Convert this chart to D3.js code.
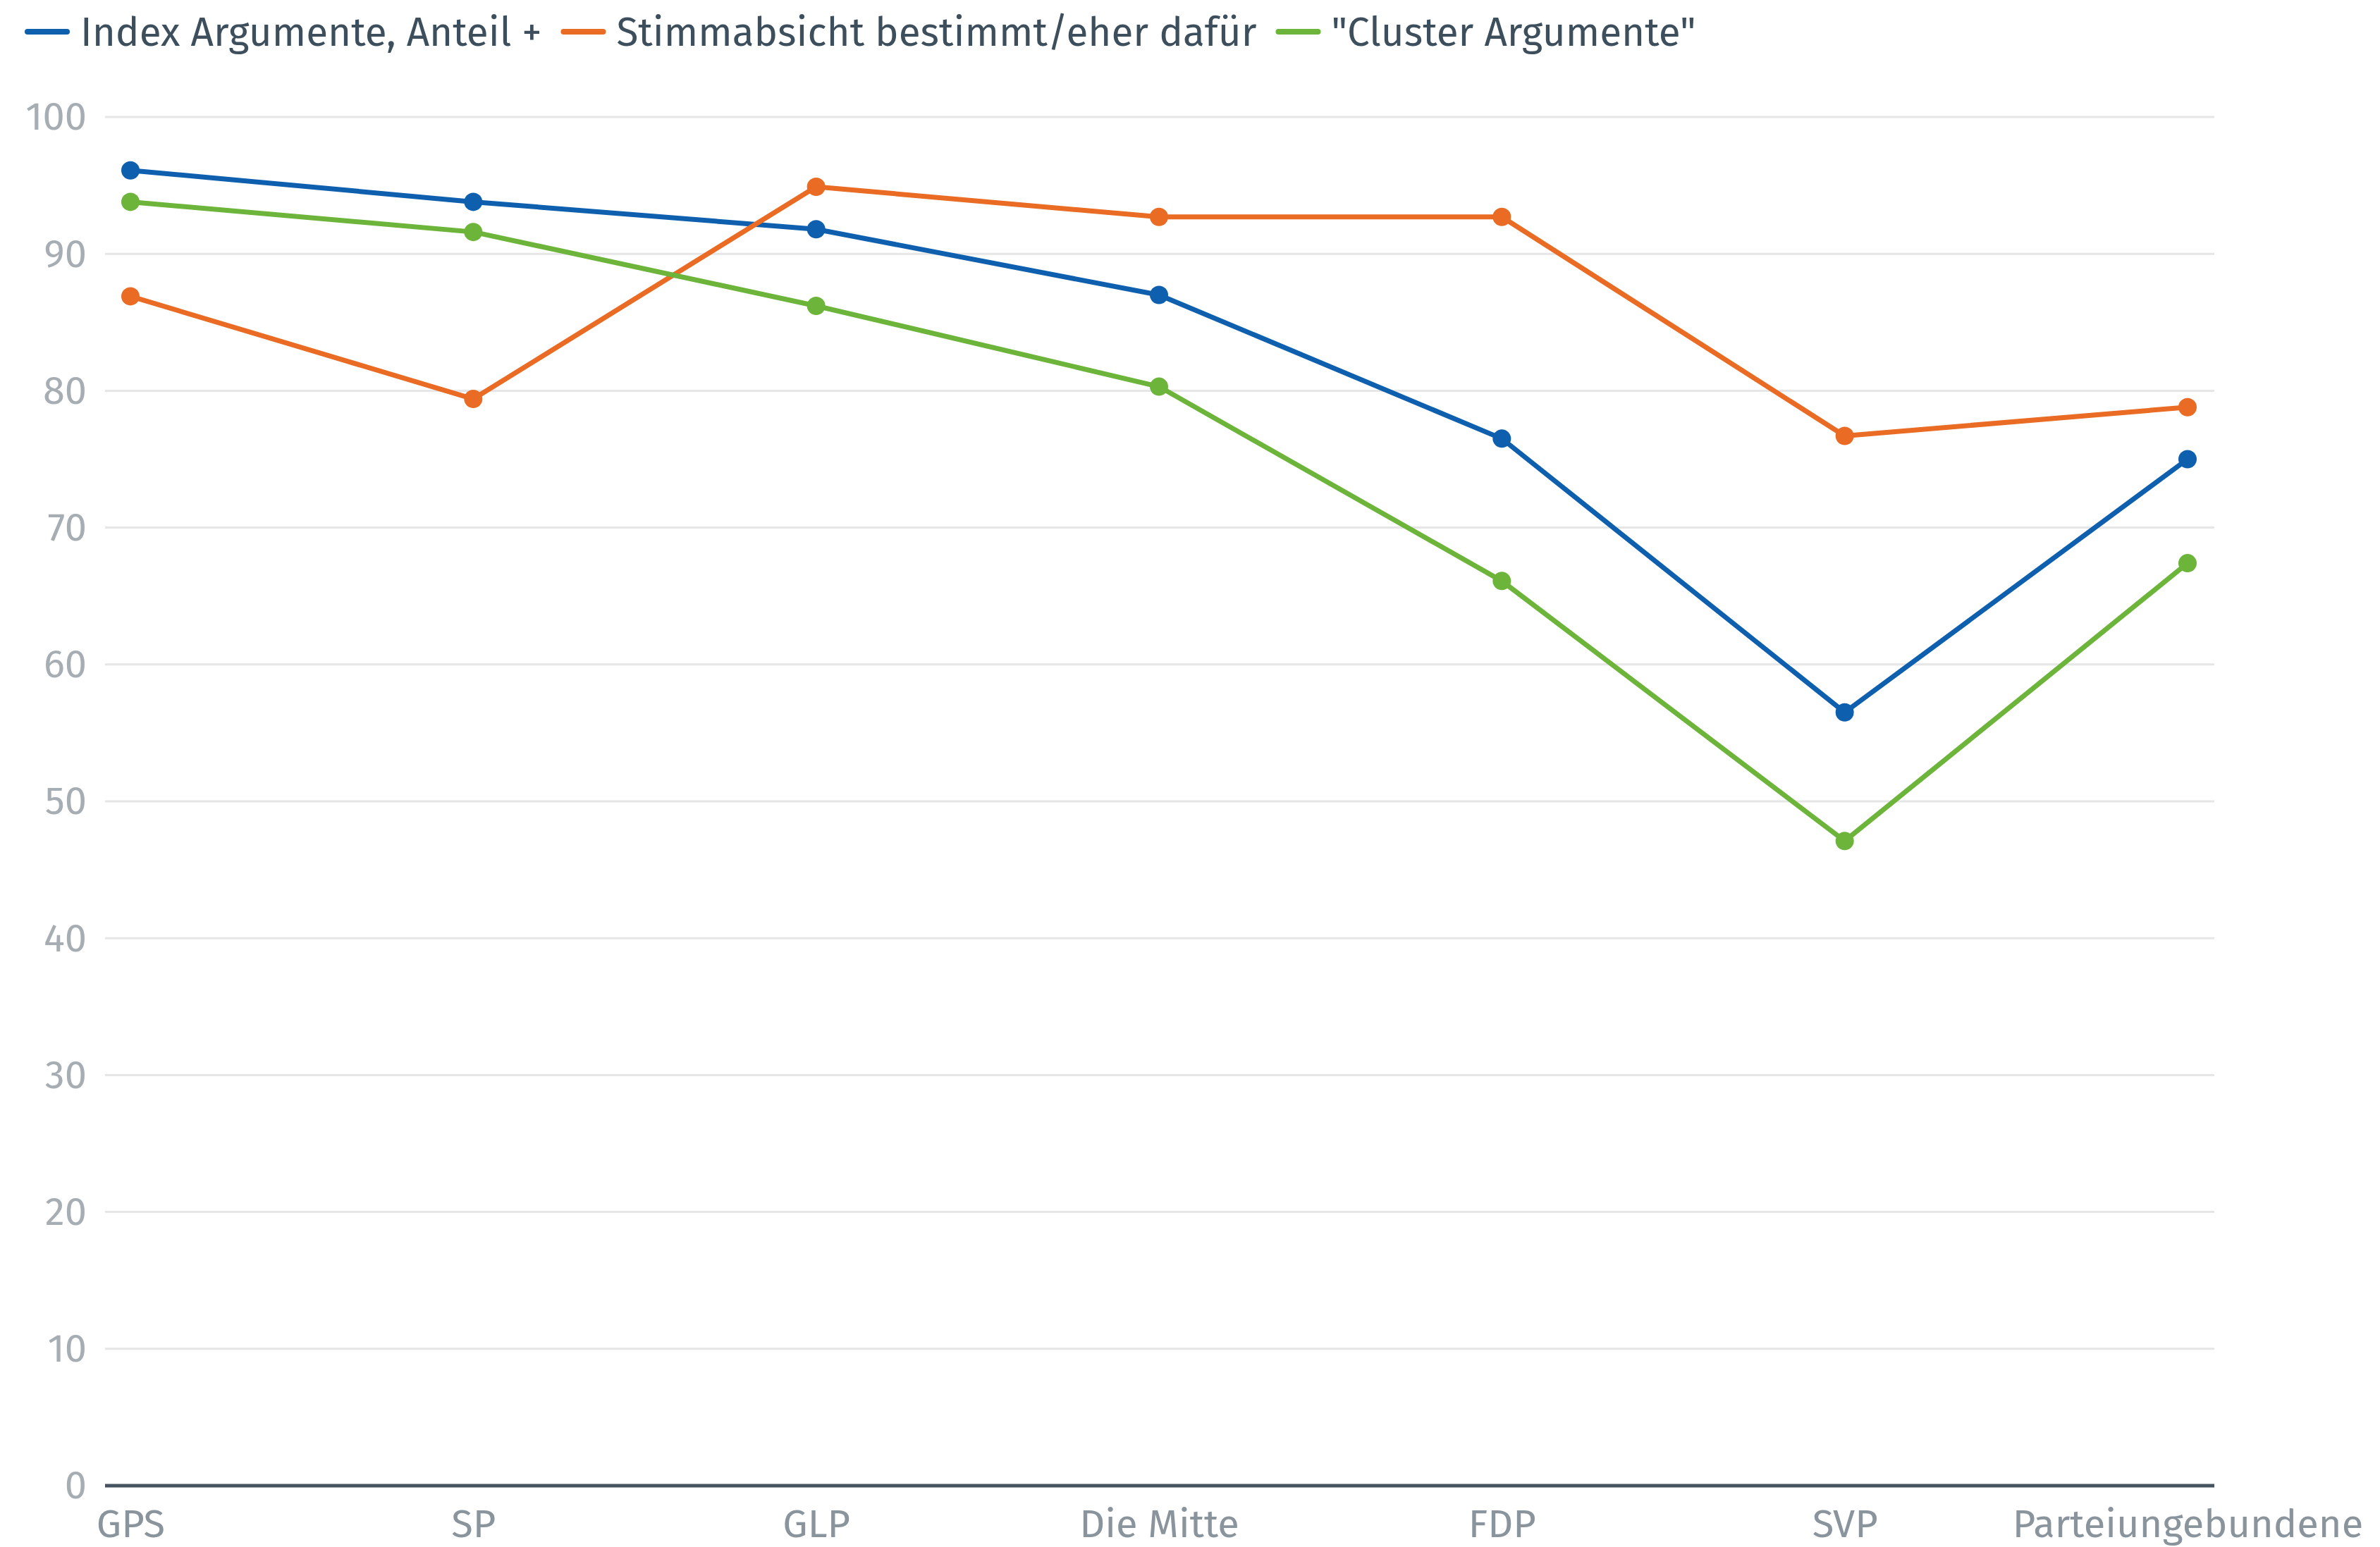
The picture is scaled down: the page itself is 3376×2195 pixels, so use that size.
<!DOCTYPE html>
<html>
<head>
<meta charset="utf-8">
<script src="https://cdn.jsdelivr.net/npm/d3@7"></script>
<style>
  body { margin: 0; background: #fff; }
  svg { font-family: "Fira Sans", Lato, "Noto Sans", sans-serif; }
</style>
</head>
<body>
<svg></svg>
<script>
const w = 3376;
const h = 2195;

// data
const categories = ['GPS', 'SP', 'GLP', 'Die Mitte', 'FDP', 'SVP', 'Parteiungebundene'];
const seriesNames = ['Index Argumente, Anteil +', 'Stimmabsicht bestimmt/eher dafür', '"Cluster Argumente"'];
const indexArgumente = [96.1, 93.8, 91.8, 87.0, 76.5, 56.5, 75.0];
const stimmabsicht = [86.9, 79.4, 94.9, 92.7, 92.7, 76.7, 78.8];
const clusterArgumente = [93.8, 91.6, 86.2, 80.3, 66.1, 47.1, 67.4];
const yTicks = [0, 10, 20, 30, 40, 50, 60, 70, 80, 90, 100];

const colors = ['#0f5faf', '#e96b24', '#6cb43a'];
const series = [indexArgumente, stimmabsicht, clusterArgumente];

const svg = d3.select('svg')
  .attr('width', w)
  .attr('height', h)

const plotLeft = 149, plotRight = 3141, plotTop = 166, plotBottom = 2108;

// Scales
const xScale = d3.scalePoint()
  .domain(categories)
  .range([185, 3103])

const yScale = d3.scaleLinear()
  .domain([0, 100])
  .range([plotBottom, plotTop])

// grid
svg.append('g')
  .selectAll('line')
  .data(yTicks.filter(d => d > 0))
  .enter()
  .append('line')
  .attr('x1', plotLeft)
  .attr('x2', plotRight)
  .attr('y1', d => yScale(d))
  .attr('y2', d => yScale(d))
  .style('stroke', '#e6e6e6')
  .style('stroke-width', 3)

// y axis labels
const yAxis = d3.axisLeft(yScale)
  .tickValues(yTicks)
  .tickSize(0)
  .tickPadding(26)

svg.append('g')
  .attr('transform', 'translate(' + plotLeft + ',0)')
  .call(yAxis)
  .call(g => g.select('.domain').remove())
  .call(g => g.attr('font-family', null))
  .call(g => g.selectAll('text')
    .style('font-size', '56px')
    .style('fill', '#a6adb3'))

// x axis
const xAxis = d3.axisBottom(xScale)
  .tickSize(0)
  .tickPadding(33)

svg.append('g')
  .attr('transform', 'translate(0,' + plotBottom + ')')
  .call(xAxis)
  .call(g => g.select('.domain').remove())
  .call(g => g.attr('font-family', null))
  .call(g => g.selectAll('text')
    .style('font-size', '56px')
    .style('fill', '#8a949c'))

svg.append('line')
  .attr('x1', plotLeft)
  .attr('x2', plotRight)
  .attr('y1', plotBottom)
  .attr('y2', plotBottom)
  .style('stroke', '#44535f')
  .style('stroke-width', 5)

// lines
const line = d3.line()
  .x((d, i) => xScale(categories[i]))
  .y(d => yScale(d))

series.forEach((s, k) => {
  svg.append('path')
    .datum(s)
    .attr('d', line)
    .style('fill', 'none')
    .style('stroke', colors[k])
    .style('stroke-width', 7)
    .style('stroke-linejoin', 'round')

  svg.append('g')
    .selectAll('circle')
    .data(s)
    .enter()
    .append('circle')
    .attr('cx', (d, i) => xScale(categories[i]))
    .attr('cy', d => yScale(d))
    .attr('r', 13)
    .style('fill', colors[k])
})

// legend
const legend = svg.append('g')
let lx = 39;
seriesNames.forEach((name, k) => {
  legend.append('line')
    .attr('x1', lx)
    .attr('x2', lx + 56)
    .attr('y1', 45)
    .attr('y2', 45)
    .style('stroke', colors[k])
    .style('stroke-width', 8)
    .style('stroke-linecap', 'round')
  const t = legend.append('text')
    .attr('x', lx + 75)
    .attr('y', 65)
    .style('font-size', '56.6px')
    .style('fill', '#3d4f5c')
    .text(name)
  lx += 75 + t.node().getComputedTextLength() + 31;
})
</script>
</body>
</html>
